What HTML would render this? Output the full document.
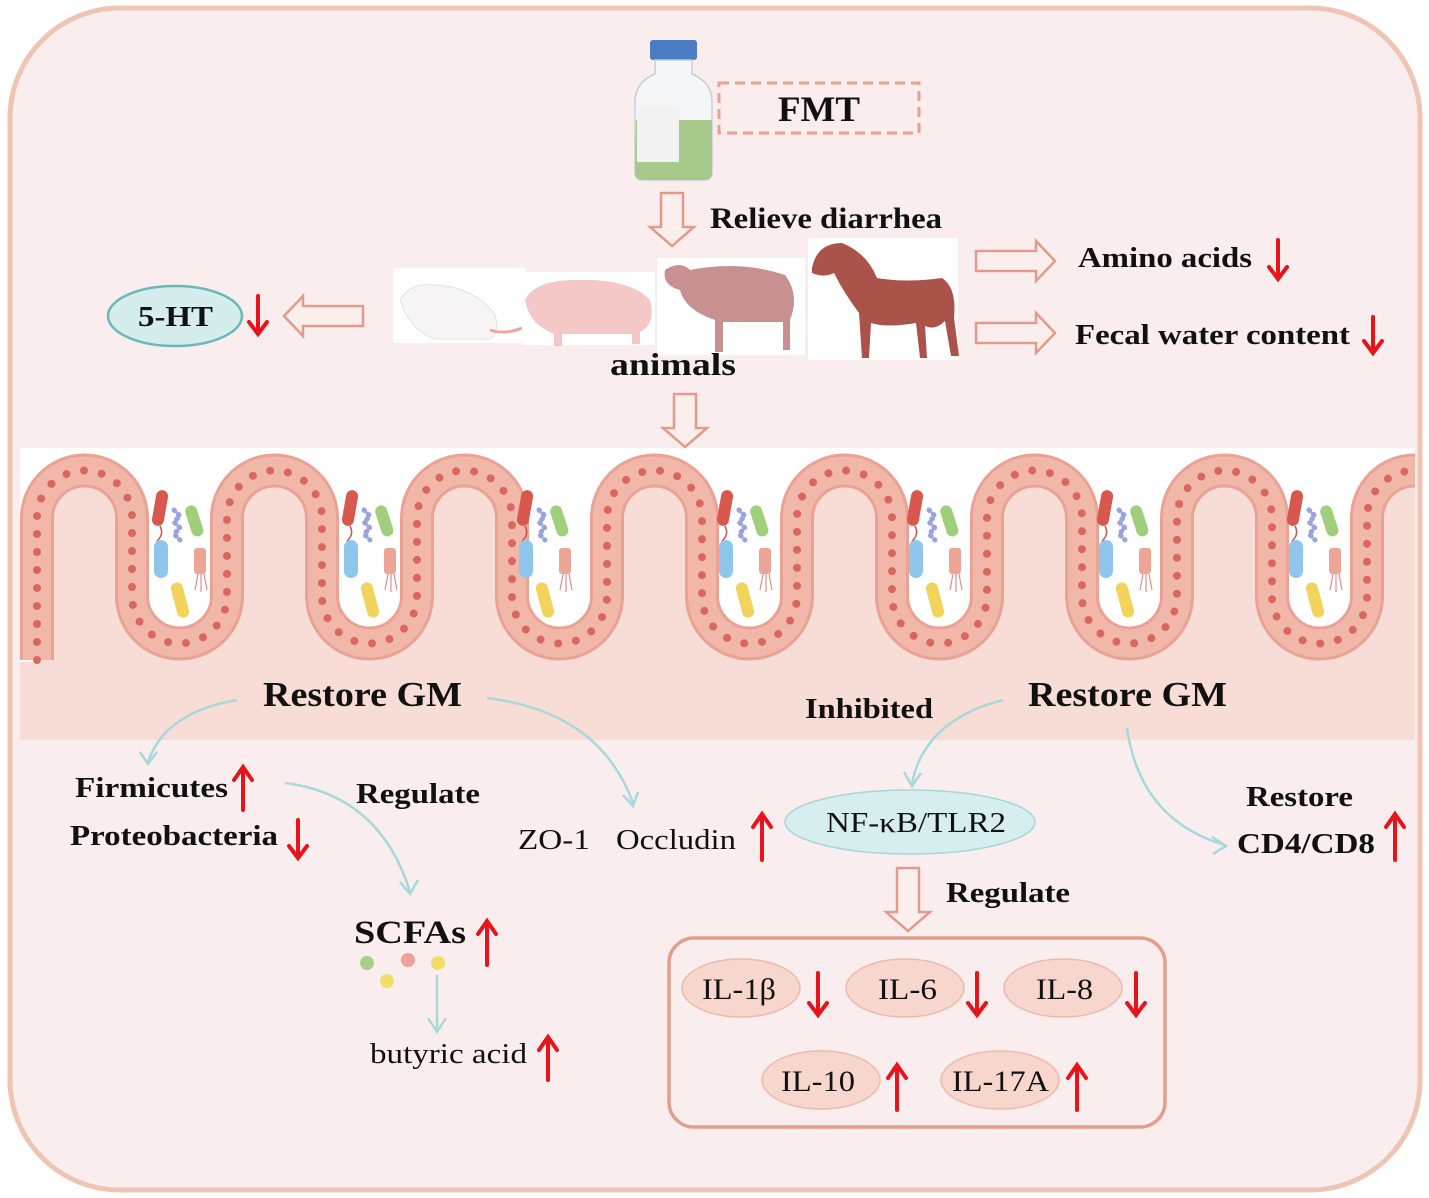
<!DOCTYPE html>
<html><head><meta charset="utf-8"><style>
html,body{margin:0;padding:0;background:#fff}
svg{display:block}
.b{font-family:"Liberation Serif",serif;font-weight:bold;fill:#111}
.r{font-family:"Liberation Serif",serif;fill:#111}
</style></head><body>
<svg width="1429" height="1198" viewBox="0 0 1429 1198" xmlns="http://www.w3.org/2000/svg">
<defs>
<clipPath id="band"><rect x="20" y="448" width="1395" height="292"/></clipPath>
<g id="bac">
 <rect x="-26" y="-70" width="12" height="36" rx="6" fill="#d9584d" transform="rotate(10 -20 -52)"/>
 <path d="M-20 -34 q4 8 -2 14 q-4 6 2 12" stroke="#c8564c" fill="none" stroke-width="1.5"/>
 <rect x="8" y="-55" width="12" height="32" rx="6" fill="#9fcf7b" transform="rotate(-18 14 -40)"/>
 <path d="M-6 -50 l6 6 l-6 6 l6 6 l-6 6 l6 6" stroke="#9aa3dd" fill="none" stroke-width="5" stroke-linecap="round" stroke-dasharray="1 5"/>
 <rect x="-26" y="-20" width="14" height="38" rx="7" fill="#8fc6ec"/>
 <rect x="14" y="-12" width="12" height="26" rx="3" fill="#eea597"/>
 <path d="M18 14 l-3 16 M21 14 l0 18 M24 14 l3 16" stroke="#e38f85" stroke-width="1.2" fill="none"/>
 <rect x="-6" y="22" width="12" height="36" rx="6" fill="#f2d45c" transform="rotate(-15 0 40)"/>
</g>
</defs>
<rect width="1429" height="1198" fill="#fff"/>
<rect x="10" y="8" width="1410" height="1182" rx="110" fill="#f9eeed" stroke="#f0c4b4" stroke-width="5"/>

<g clip-path="url(#band)">
<rect x="20" y="448" width="1395" height="292" fill="#ffffff"/>
<path d="M37 760 V518 A47.5 47.5 0 0 1 132 518 V596 A47.5 47.5 0 0 0 227 596 V518 A47.5 47.5 0 0 1 322 518 V596 A47.5 47.5 0 0 0 417 596 V518 A47.5 47.5 0 0 1 512 518 V596 A47.5 47.5 0 0 0 607 596 V518 A47.5 47.5 0 0 1 702 518 V596 A47.5 47.5 0 0 0 797 596 V518 A47.5 47.5 0 0 1 892 518 V596 A47.5 47.5 0 0 0 987 596 V518 A47.5 47.5 0 0 1 1082 518 V596 A47.5 47.5 0 0 0 1177 596 V518 A47.5 47.5 0 0 1 1272 518 V596 A47.5 47.5 0 0 0 1367 596 V518 A47.5 47.5 0 0 1 1462 518 V760 Z" fill="#f8ddd7"/>
<rect x="0" y="662" width="1429" height="80" fill="#f8ddd7"/>
<path d="M37 660 V518 A47.5 47.5 0 0 1 132 518 V596 A47.5 47.5 0 0 0 227 596 V518 A47.5 47.5 0 0 1 322 518 V596 A47.5 47.5 0 0 0 417 596 V518 A47.5 47.5 0 0 1 512 518 V596 A47.5 47.5 0 0 0 607 596 V518 A47.5 47.5 0 0 1 702 518 V596 A47.5 47.5 0 0 0 797 596 V518 A47.5 47.5 0 0 1 892 518 V596 A47.5 47.5 0 0 0 987 596 V518 A47.5 47.5 0 0 1 1082 518 V596 A47.5 47.5 0 0 0 1177 596 V518 A47.5 47.5 0 0 1 1272 518 V596 A47.5 47.5 0 0 0 1367 596 V518 A47.5 47.5 0 0 1 1462 518 V760" fill="none" stroke="#e9a293" stroke-width="34"/>
<path d="M37 660 V518 A47.5 47.5 0 0 1 132 518 V596 A47.5 47.5 0 0 0 227 596 V518 A47.5 47.5 0 0 1 322 518 V596 A47.5 47.5 0 0 0 417 596 V518 A47.5 47.5 0 0 1 512 518 V596 A47.5 47.5 0 0 0 607 596 V518 A47.5 47.5 0 0 1 702 518 V596 A47.5 47.5 0 0 0 797 596 V518 A47.5 47.5 0 0 1 892 518 V596 A47.5 47.5 0 0 0 987 596 V518 A47.5 47.5 0 0 1 1082 518 V596 A47.5 47.5 0 0 0 1177 596 V518 A47.5 47.5 0 0 1 1272 518 V596 A47.5 47.5 0 0 0 1367 596 V518 A47.5 47.5 0 0 1 1462 518 V760" fill="none" stroke="#f1b8aa" stroke-width="28"/>
<path d="M37 660 V518 A47.5 47.5 0 0 1 132 518 V596 A47.5 47.5 0 0 0 227 596 V518 A47.5 47.5 0 0 1 322 518 V596 A47.5 47.5 0 0 0 417 596 V518 A47.5 47.5 0 0 1 512 518 V596 A47.5 47.5 0 0 0 607 596 V518 A47.5 47.5 0 0 1 702 518 V596 A47.5 47.5 0 0 0 797 596 V518 A47.5 47.5 0 0 1 892 518 V596 A47.5 47.5 0 0 0 987 596 V518 A47.5 47.5 0 0 1 1082 518 V596 A47.5 47.5 0 0 0 1177 596 V518 A47.5 47.5 0 0 1 1272 518 V596 A47.5 47.5 0 0 0 1367 596 V518 A47.5 47.5 0 0 1 1462 518 V760" fill="none" stroke="#d9675d" stroke-width="8" stroke-linecap="round" stroke-dasharray="0 18"/>
<use href="#bac" x="180" y="560"/>
<use href="#bac" x="370" y="560"/>
<use href="#bac" x="545" y="560"/>
<use href="#bac" x="745" y="560"/>
<use href="#bac" x="935" y="560"/>
<use href="#bac" x="1125" y="560"/>
<use href="#bac" x="1315" y="560"/>
</g>

<rect x="650" y="40" width="47" height="20" rx="3" fill="#4b7cc4"/>
<path d="M655 60 h37 v14 q20 8 20 28 v70 q0 8 -8 8 h-61 q-8 0 -8 -8 v-70 q0 -20 20 -28 z" fill="#f4f6f7" stroke="#c9cfd3" stroke-width="1.5"/>
<path d="M636 120 h76 v52 q0 8 -8 8 h-61 q-8 0 -8 -8 z" fill="#a8c98c"/>
<rect x="637" y="106" width="42" height="56" fill="#f2f2f2"/>
<rect x="719" y="83" width="200" height="50" fill="none" stroke="#eba190" stroke-width="3" stroke-dasharray="10 6"/>
<text x="778" y="121" class="b" font-size="36" textLength="82" lengthAdjust="spacingAndGlyphs">FMT</text>

<g fill="#fbefee" stroke="#e49a8a" stroke-width="2.5">
<polygon points="661,193 683,193 683,227 694,227 672,246 650,227 661,227"/>
<polygon points="674,394 696,394 696,428 707,428 685,447 663,428 674,428"/>
<polygon points="897,868 919,868 919,912 930,912 908,931 886,912 897,912"/>
<polygon points="363,306 363,326 303,326 303,336 284,316 303,296 303,306"/>
<polygon points="976,251 976,271 1036,271 1036,281 1055,261 1036,241 1036,251"/>
<polygon points="976,323 976,343 1036,343 1036,353 1055,333 1036,313 1036,323"/>
</g>
<text x="710" y="228" class="b" font-size="30" textLength="232" lengthAdjust="spacingAndGlyphs">Relieve diarrhea</text>

<rect x="393" y="268" width="132" height="75" fill="#fff"/>
<path d="M400 300 q10 -18 35 -15 q40 2 60 30 q5 18 -5 24 h-55 q-25 -8 -35 -39z" fill="#f7f5f5" stroke="#e8e0e0"/>
<path d="M490 330 q15 5 32 -2" stroke="#eaa898" stroke-width="3" fill="none"/>
<rect x="522" y="272" width="133" height="73" fill="#fff"/>
<path d="M525 300 q10 -20 50 -20 q55 -2 75 20 q6 25 -10 32 v12 h-8 v-10 h-70 v12 h-8 v-12 q-25 -10 -29 -34z" fill="#f5c8c8"/>
<rect x="657" y="258" width="148" height="97" fill="#fff"/>
<path d="M665 270 q15 -10 25 0 q50 -10 95 5 q15 20 5 45 v30 h-7 v-28 h-60 v30 h-8 v-32 q-30 -10 -35 -30 q-18 -5 -15 -20z" fill="#c89090"/>
<rect x="808" y="238" width="150" height="122" fill="#fff"/>
<path d="M812 268 q5 -25 30 -25 q25 10 35 35 q30 5 65 0 q15 10 12 40 l5 38 h-8 l-6 -35 q-10 10 -20 5 l2 32 h-7 l-4 -35 q-30 5 -45 0 l-2 35 h-7 l-3 -45 q-15 -20 -25 -40 q-10 5 -22 0z" fill="#a9534b"/>
<text x="610" y="375" class="b" font-size="32" textLength="126" lengthAdjust="spacingAndGlyphs">animals</text>

<ellipse cx="175" cy="316" rx="67" ry="30" fill="#d6eded" stroke="#6db7ba" stroke-width="2.5"/>
<text x="138" y="326" class="b" font-size="29" textLength="75" lengthAdjust="spacingAndGlyphs">5-HT</text>

<text x="1078" y="267" class="b" font-size="29" textLength="174" lengthAdjust="spacingAndGlyphs">Amino acids</text>
<text x="1075" y="344" class="b" font-size="29" textLength="275" lengthAdjust="spacingAndGlyphs">Fecal water content</text>

<text x="263" y="706" class="b" font-size="35" textLength="199" lengthAdjust="spacingAndGlyphs">Restore GM</text>
<text x="1028" y="706" class="b" font-size="35" textLength="199" lengthAdjust="spacingAndGlyphs">Restore GM</text>
<text x="805" y="718" class="b" font-size="29" textLength="128" lengthAdjust="spacingAndGlyphs">Inhibited</text>

<g fill="none" stroke="#a8d8db" stroke-width="2.5">
<path d="M237 700 Q165 712 148 762"/><path d="M140 752 L148 764 L157 752"/>
<path d="M487 698 Q600 712 633 803"/><path d="M623 795 L633 806 L638 792"/>
<path d="M285 783 Q380 795 410 892"/><path d="M400 882 L410 894 L418 880"/>
<path d="M1003 700 Q925 720 912 783"/><path d="M904 772 L912 786 L921 773"/>
<path d="M1127 728 Q1140 820 1225 845"/><path d="M1212 837 L1226 846 L1213 854"/>
<path d="M437 975 V1030"/><path d="M428 1018 L437 1032 L446 1018"/>
</g>

<text x="75" y="797" class="b" font-size="29" textLength="153" lengthAdjust="spacingAndGlyphs">Firmicutes</text>
<text x="70" y="845" class="b" font-size="29" textLength="208" lengthAdjust="spacingAndGlyphs">Proteobacteria</text>
<text x="356" y="803" class="b" font-size="29" textLength="124" lengthAdjust="spacingAndGlyphs">Regulate</text>
<text x="518" y="849" class="r" font-size="29" textLength="72" lengthAdjust="spacingAndGlyphs">ZO-1</text>
<text x="616" y="849" class="r" font-size="29" textLength="120" lengthAdjust="spacingAndGlyphs">Occludin</text>
<ellipse cx="910" cy="822" rx="125" ry="32" fill="#d7eeee" stroke="#a8d5d8" stroke-width="1.5"/>
<text x="826" y="832" class="r" font-size="29" textLength="180" lengthAdjust="spacingAndGlyphs">NF-κB/TLR2</text>
<text x="1246" y="806" class="b" font-size="29" textLength="107" lengthAdjust="spacingAndGlyphs">Restore</text>
<text x="1237" y="853" class="b" font-size="29" textLength="138" lengthAdjust="spacingAndGlyphs">CD4/CD8</text>
<text x="946" y="902" class="b" font-size="29" textLength="124" lengthAdjust="spacingAndGlyphs">Regulate</text>
<text x="354" y="943" class="b" font-size="33" textLength="112" lengthAdjust="spacingAndGlyphs">SCFAs</text>
<circle cx="367" cy="963" r="7" fill="#a9d08a"/>
<circle cx="408" cy="960" r="7" fill="#f0a09a"/>
<circle cx="438" cy="963" r="7" fill="#f2dc6a"/>
<circle cx="387" cy="981" r="7" fill="#f2dc6a"/>
<text x="370" y="1063" class="r" font-size="29" textLength="157" lengthAdjust="spacingAndGlyphs">butyric acid</text>

<rect x="669" y="938" width="496" height="189" rx="25" fill="#f9eeed" stroke="#e59c8c" stroke-width="3.5"/>
<g fill="#f7d6cd" stroke="#efb8aa" stroke-width="1.5">
<ellipse cx="741" cy="988" rx="59" ry="29"/>
<ellipse cx="905" cy="988" rx="59" ry="29"/>
<ellipse cx="1063" cy="988" rx="59" ry="29"/>
<ellipse cx="821" cy="1080" rx="59" ry="29"/>
<ellipse cx="1000" cy="1080" rx="59" ry="29"/>
</g>
<text x="702" y="999" class="r" font-size="30" textLength="74" lengthAdjust="spacingAndGlyphs">IL-1β</text>
<text x="878" y="999" class="r" font-size="30" textLength="59" lengthAdjust="spacingAndGlyphs">IL-6</text>
<text x="1036" y="999" class="r" font-size="30" textLength="57" lengthAdjust="spacingAndGlyphs">IL-8</text>
<text x="781" y="1091" class="r" font-size="30" textLength="74" lengthAdjust="spacingAndGlyphs">IL-10</text>
<text x="952" y="1091" class="r" font-size="30" textLength="97" lengthAdjust="spacingAndGlyphs">IL-17A</text>

<g fill="none" stroke="#e8141b" stroke-width="4" stroke-linecap="round">
<path d="M258 296 V333 M249 322 L258 334 L267 322"/>
<path d="M1278 240 V278 M1269 267 L1278 279 L1287 267"/>
<path d="M1373 317 V352 M1364 341 L1373 353 L1382 341"/>
<path d="M243 810 V768 M234 780 L243 767 L252 780"/>
<path d="M298 820 V857 M289 846 L298 858 L307 846"/>
<path d="M762 860 V815 M753 827 L762 814 L771 827"/>
<path d="M1395 860 V815 M1386 827 L1395 814 L1404 827"/>
<path d="M487 965 V922 M478 934 L487 921 L496 934"/>
<path d="M548 1080 V1038 M539 1050 L548 1037 L557 1050"/>
<path d="M818 973 V1014 M809 1003 L818 1015 L827 1003"/>
<path d="M977 973 V1014 M968 1003 L977 1015 L986 1003"/>
<path d="M1136 973 V1014 M1127 1003 L1136 1015 L1145 1003"/>
<path d="M897 1110 V1066 M888 1078 L897 1065 L906 1078"/>
<path d="M1077 1110 V1066 M1068 1078 L1077 1065 L1086 1078"/>
</g>
</svg>
</body></html>
